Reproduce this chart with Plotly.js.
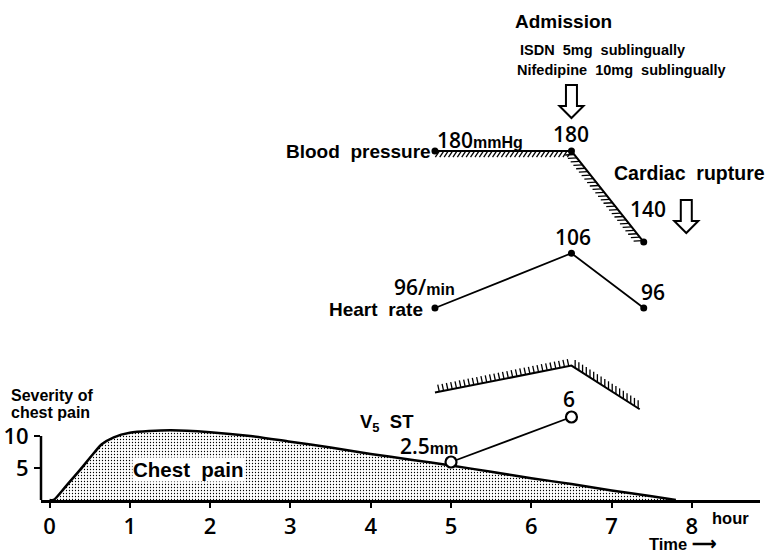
<!DOCTYPE html>
<html>
<head>
<meta charset="utf-8">
<script src="https://cdn.plot.ly/plotly-3.0.1.min.js"></script>
<style>html,body{margin:0;padding:0;background:#fff;}#chart{width:770px;height:552px;}</style>
</head>
<body>
<div id="chart"></div>
<script>
// ---- data ----
const painHours    = [0, 0.05, 0.2, 0.38, 0.55, 0.65, 0.8, 1.0, 1.5, 2.0, 2.5, 3.0, 3.5, 4.0, 4.5, 5.0, 5.5, 6.0, 6.5, 7.0, 7.5, 7.8];
const painSeverity = [0, 0, 2.1, 4.7, 7.3, 8.7, 9.8, 10.5, 10.9, 10.6, 10.0, 9.1, 8.2, 7.2, 6.3, 5.4, 4.4, 3.4, 2.5, 1.5, 0.6, 0];
const bpHours  = [4.8, 6.5, 7.4];
const bpValues = [180, 180, 140];
const hrHours  = [4.8, 6.5, 7.4];
const hrValues = [96, 106, 96];
const stHours  = [5, 6.5];
const stValues = [2.5, 6];
const envHours  = [4.8, 6.5, 7.35];
const envValues = [7.9, 10.0, 6.6];
const admissionHour = 6.5;
const ruptureHour = 7.93;
const xTicks = [0, 1, 2, 3, 4, 5, 6, 7, 8];
const yTicks = [5, 10];

// ---- axis ranges ----
const xRange  = [-0.106, 8.848];
const yPain   = [0, 78.125];
const yHR     = [60.9, 152.3];
const yBP     = [26.6, 246.4];
const yST     = [-0.456, 38.43];
const PW = 719, PH = 500, L = 41;

const xToPx = h => L + (h - xRange[0]) / (xRange[1] - xRange[0]) * PW;
const pxToX = p => xRange[0] + (p - L) / PW * (xRange[1] - xRange[0]);
const yToPx = (v, r) => PH - (v - r[0]) / (r[1] - r[0]) * PH;
const pxToY = (p, r) => r[0] + (PH - p) / PH * (r[1] - r[0]);

function hatch(xs, ys, r, gap, offsets) {
  const hx = [], hy = [];
  for (let i = 0; i < xs.length - 1; i++) {
    const x0 = xToPx(xs[i]), y0 = yToPx(ys[i], r);
    const x1 = xToPx(xs[i + 1]), y1 = yToPx(ys[i + 1], r);
    const len = Math.hypot(x1 - x0, y1 - y0);
    const n = Math.floor(len / gap);
    const o = offsets[i];
    for (let k = 1; k <= n; k++) {
      const t = k * gap / len;
      const px = x0 + (x1 - x0) * t, py = y0 + (y1 - y0) * t;
      hx.push(pxToX(px), pxToX(px + o[0]), null);
      hy.push(pxToY(py, r), pxToY(py + o[1], r), null);
    }
  }
  return {hx, hy};
}

const bpH = hatch(bpHours, bpValues, yBP, 4.4, [[-4, 6], [-9, 0.5]]);
const envH = hatch(envHours, envValues, yST, 4.4, [[-1.5, -7], [0, -8]]);

const NUM = '"Open Sans", "Noto Sans", sans-serif';
const BOLD = '"Liberation Sans", Arial, sans-serif';
const numFont = (size) => ({family: NUM, size: size, color: '#000', stretch: 'condensed', weight: 600});

const traces = [
  {x: painHours, y: painSeverity, type: 'scatter', mode: 'lines', fill: 'tozeroy',
   line: {color: '#000', width: 2.5, shape: 'spline', smoothing: 0.7},
   fillcolor: 'rgba(0,0,0,0)',
   fillpattern: {shape: '.', fgcolor: '#000', bgcolor: '#fff', size: 3, solidity: 0.15},
   hoverinfo: 'skip', xaxis: 'x', yaxis: 'y'},
  {x: bpH.hx, y: bpH.hy, type: 'scatter', mode: 'lines', line: {color: '#000', width: 1.3},
   xaxis: 'x', yaxis: 'y3', hoverinfo: 'skip'},
  {x: bpHours, y: bpValues, type: 'scatter', mode: 'lines+markers',
   line: {color: '#000', width: 2}, marker: {color: '#000', size: 7},
   xaxis: 'x', yaxis: 'y3'},
  {x: hrHours, y: hrValues, type: 'scatter', mode: 'lines+markers',
   line: {color: '#000', width: 1.8}, marker: {color: '#000', size: 7},
   xaxis: 'x', yaxis: 'y2'},
  {x: envH.hx, y: envH.hy, type: 'scatter', mode: 'lines', line: {color: '#000', width: 1.3},
   xaxis: 'x', yaxis: 'y4', hoverinfo: 'skip'},
  {x: envHours, y: envValues, type: 'scatter', mode: 'lines',
   line: {color: '#000', width: 2}, xaxis: 'x', yaxis: 'y4'},
  {x: stHours, y: stValues, type: 'scatter', mode: 'lines+markers',
   line: {color: '#000', width: 1.8},
   marker: {color: '#fff', size: 11, line: {color: '#000', width: 2.2}},
   xaxis: 'x', yaxis: 'y4'}
];

const P = (px, py) => ({x: (px - L) / PW, y: (PH - py) / PH, xref: 'paper', yref: 'paper'});
function txt(px, py, text, size, opts) {
  return Object.assign(P(px, py), {text: text, showarrow: false,
    font: {family: BOLD, size: size, color: '#000', weight: 'bold'},
    xanchor: 'center', yanchor: 'middle'}, opts || {});
}
function val(x, y, yref, text, xs, ys, opts) {
  return Object.assign({x: x, y: y, xref: 'x', yref: yref, text: text, showarrow: false,
    xshift: xs, yshift: ys, font: numFont(21),
    xanchor: 'center', yanchor: 'middle'}, opts || {});
}
const sp = '\u00a0\u00a0';
const unit = (u) => '<span style="font-family:Liberation Sans;font-stretch:normal;font-weight:bold;font-size:16px">' + u + '</span>';
const annotations = [
  txt(563, 21, 'Admission', 19),
  txt(518, 50, 'ISDN' + sp + '5mg' + sp + 'sublingually', 14.5, {xanchor: 'left'}),
  txt(515, 70, 'Nifedipine' + sp + '10mg' + sp + 'sublingually', 14.5, {xanchor: 'left'}),
  txt(433, 151, 'Blood' + sp + 'pressure', 19, {xanchor: 'right'}),
  txt(767, 173, 'Cardiac' + sp + 'rupture', 19.5, {xanchor: 'right'}),
  txt(425, 309, 'Heart' + sp + 'rate', 19, {xanchor: 'right'}),
  txt(387, 423, 'V<sub>5</sub>' + sp + 'ST', 18.5),
  txt(188, 469, 'Chest' + sp + 'pain', 20.5, {bgcolor: '#fff', borderpad: 0}),
  txt(9, 395, 'Severity\u00a0of', 16, {xanchor: 'left'}),
  txt(9, 412, 'chest\u00a0pain', 16, {xanchor: 'left'}),
  txt(710, 518, 'hour', 16.5, {xanchor: 'left'}),
  txt(647, 544, 'Time\u00a0\u27F6', 16.5, {xanchor: 'left'}),
  val(bpHours[0], bpValues[0], 'y3', bpValues[0] + unit('mmHg'), 0, 11, {xanchor: 'left'}),
  val(bpHours[1], bpValues[1], 'y3', String(bpValues[1]), 0, 17),
  val(bpHours[2], bpValues[2], 'y3', String(bpValues[2]), 4, 33),
  val(hrHours[0], hrValues[0], 'y2', hrValues[0] + '/' + unit('min'), -10, 21),
  val(hrHours[1], hrValues[1], 'y2', String(hrValues[1]), 2, 16),
  val(hrHours[2], hrValues[2], 'y2', String(hrValues[2]), 9, 16),
  val(stHours[0], stValues[0], 'y4', stValues[0] + unit('mm'), -22, 16),
  val(stHours[1], stValues[1], 'y4', String(stValues[1]), -2, 18)
];

// hollow down arrows (pixel-sized, anchored at event times)
const arrowPath = 'M-5.5,0 L5.5,0 L5.5,-21 L12,-21 L0,-33 L-12,-21 L-5.5,-21 Z';
function arrowShape(hour, topPx) {
  return {type: 'path', xref: 'x', yref: 'paper', xsizemode: 'pixel', ysizemode: 'pixel',
    xanchor: hour, yanchor: (PH - topPx) / PH, path: arrowPath,
    line: {color: '#000', width: 2}, fillcolor: '#fff', layer: 'above'};
}

const layout = {
  width: 770, height: 552,
  margin: {l: L, r: 10, t: 0, b: 52, pad: 0},
  paper_bgcolor: '#fff', plot_bgcolor: '#fff',
  showlegend: false,
  xaxis: {range: xRange, tickvals: xTicks, ticktext: xTicks.map(String),
    ticks: 'outside', ticklen: 5, tickwidth: 2, tickcolor: '#000',
    showline: true, linewidth: 3, linecolor: '#000', showgrid: false, zeroline: false,
    tickfont: numFont(22), ticklabelstandoff: 0, fixedrange: true},
  yaxis: {range: yPain, tickvals: yTicks, ticktext: yTicks.map(String),
    ticks: 'outside', ticklen: 6, tickwidth: 2, tickcolor: '#000',
    showline: false, showgrid: false, zeroline: false,
    tickfont: numFont(22), ticklabelstandoff: 1, fixedrange: true},
  yaxis2: {range: yHR, overlaying: 'y', visible: false, fixedrange: true},
  yaxis3: {range: yBP, overlaying: 'y', visible: false, fixedrange: true},
  yaxis4: {range: yST, overlaying: 'y', visible: false, fixedrange: true},
  shapes: [
    {type: 'line', xref: 'paper', yref: 'y', x0: 0, x1: 0, y0: 0, y1: yTicks[1],
     line: {color: '#000', width: 2.5}},
    arrowShape(admissionHour, 85),
    arrowShape(ruptureHour, 200)
  ],
  annotations: annotations
};

Plotly.newPlot('chart', traces, layout, {displayModeBar: false, staticPlot: true});
</script>
</body>
</html>
